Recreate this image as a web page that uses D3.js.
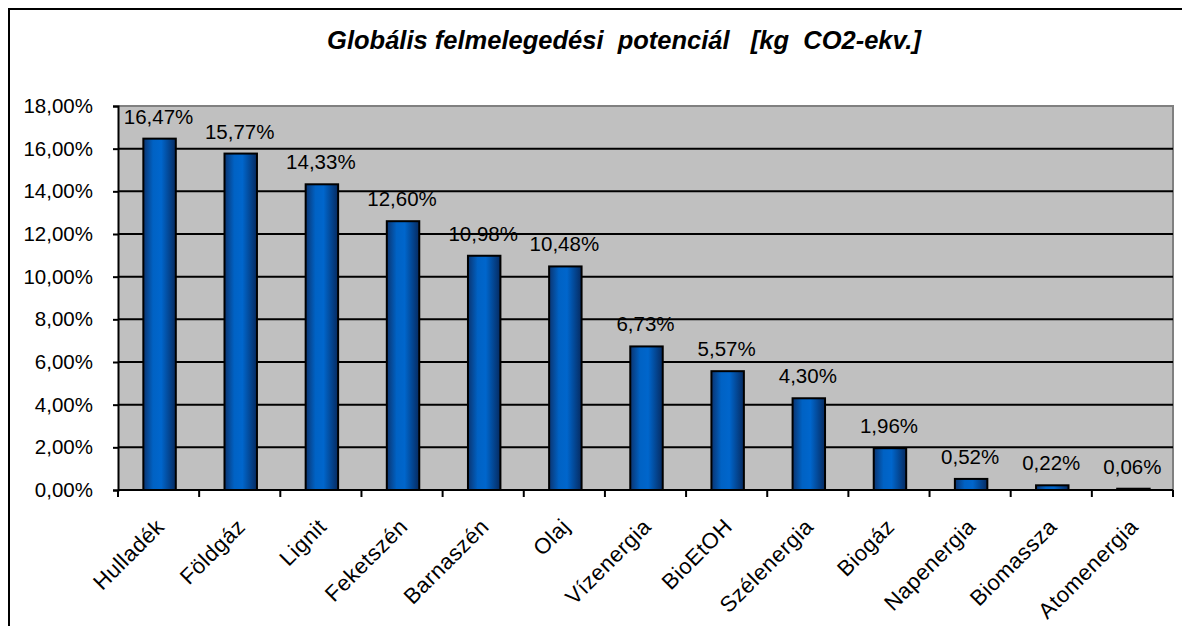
<!DOCTYPE html>
<html>
<head>
<meta charset="utf-8">
<script src="https://cdn.jsdelivr.net/npm/d3@7"></script>
<style>
  html, body { margin: 0; padding: 0; background: #fff; }
  svg { display: block; font-family: Arial, "Liberation Sans", sans-serif; }
</style>
</head>
<body>
<svg id="chart" width="1182" height="626"></svg>
<script>
// Global warming potential share by energy source
const categories = ["Hulladék", "Földgáz", "Lignit", "Feketszén", "Barnaszén", "Olaj",
  "Vízenergia", "BioEtOH", "Szélenergia", "Biogáz", "Napenergia", "Biomassza", "Atomenergia"];
const values = [16.47, 15.77, 14.33, 12.60, 10.98, 10.48, 6.73, 5.57, 4.30, 1.96, 0.52, 0.22, 0.06];
const yTicks = [0, 2, 4, 6, 8, 10, 12, 14, 16, 18];
const title = "Globális felmelegedési  potenciál   [kg  CO2-ekv.]";

const fmt = v => v.toFixed(2).replace(".", ",") + "%";

const svg = d3.select("#chart");
const plot = { left: 118, right: 1173, top: 106, bottom: 490 };

// outer chart frame
svg.append("path")
  .attr("d", "M9,640 L9,9 L1190,9")
  .attr("fill", "none").attr("stroke", "#000").attr("stroke-width", 2);

// title
svg.append("text")
  .attr("x", 624).attr("y", 49)
  .attr("text-anchor", "middle")
  .attr("font-size", 25.5).attr("font-weight", "bold").attr("font-style", "italic")
  .style("white-space", "pre")
  .text(title);

const x = d3.scaleBand().domain(categories).range([plot.left, plot.right]).paddingInner(0).paddingOuter(0);
const y = d3.scaleLinear().domain([0, 18]).range([plot.bottom, plot.top]);

// plot background
svg.append("rect")
  .attr("x", plot.left).attr("y", plot.top)
  .attr("width", plot.right - plot.left).attr("height", plot.bottom - plot.top)
  .attr("fill", "#c0c0c0");
svg.append("path")
  .attr("d", `M${plot.left},${plot.top} L${plot.right},${plot.top} L${plot.right},${plot.bottom}`)
  .attr("fill", "none").attr("stroke", "#808080").attr("stroke-width", 2);

// gridlines
svg.append("g").selectAll("line")
  .data(yTicks.filter(t => t > 0 && t < 18))
  .join("line")
  .attr("x1", plot.left).attr("x2", plot.right)
  .attr("y1", d => y(d)).attr("y2", d => y(d))
  .attr("stroke", "#000").attr("stroke-width", 2);

// bar gradient
const defs = svg.append("defs");
const grad = defs.append("linearGradient").attr("id", "barGrad")
  .attr("x1", "0%").attr("x2", "100%").attr("y1", "0%").attr("y2", "0%");
[[0, "#0b3470"], [0.3, "#0062c4"], [0.55, "#0066cc"], [1, "#062a60"]]
  .forEach(([o, c]) => grad.append("stop").attr("offset", o).attr("stop-color", c));

// bars
const barW = x.bandwidth() * 0.4;
svg.append("g").selectAll("rect")
  .data(values)
  .join("rect")
  .attr("x", (d, i) => x(categories[i]) + x.bandwidth() / 2 - barW / 2 + 1)
  .attr("y", d => y(d))
  .attr("width", barW)
  .attr("height", d => y(0) - y(d))
  .attr("fill", "url(#barGrad)")
  .attr("stroke", "#000").attr("stroke-width", 2);

// value labels
svg.append("g").selectAll("text")
  .data(values)
  .join("text")
  .attr("x", (d, i) => x(categories[i]) + x.bandwidth() / 2)
  .attr("y", d => y(d) - 15)
  .attr("text-anchor", "middle")
  .attr("font-size", 20.5)
  .text(d => fmt(d));

// y axis
const yAxis = d3.axisLeft(y).tickValues(yTicks).tickSize(5).tickPadding(20).tickFormat(d => fmt(d));
const gy = svg.append("g").attr("transform", `translate(${plot.left},0)`).call(yAxis);
gy.select(".domain").attr("stroke", "#000").attr("stroke-width", 2);
gy.selectAll(".tick line").attr("stroke", "#000").attr("stroke-width", 2);
gy.selectAll(".tick text").attr("font-size", 20.5).attr("font-family", "Arial, 'Liberation Sans', sans-serif").attr("fill", "#000");

// x axis: baseline and ticks at category boundaries
svg.append("line")
  .attr("x1", plot.left).attr("x2", plot.right)
  .attr("y1", plot.bottom).attr("y2", plot.bottom)
  .attr("stroke", "#000").attr("stroke-width", 2);
const bounds = categories.map(c => x(c)).concat([plot.right]);
svg.append("g").selectAll("line")
  .data(bounds)
  .join("line")
  .attr("x1", d => d).attr("x2", d => d)
  .attr("y1", plot.bottom).attr("y2", plot.bottom + 7)
  .attr("stroke", "#000").attr("stroke-width", 2);

// rotated category labels
svg.append("g").selectAll("text")
  .data(categories)
  .join("text")
  .attr("transform", d => `translate(${x(d) + x.bandwidth() / 2 + 7},${plot.bottom + 38}) rotate(-45)`)
  .attr("text-anchor", "end")
  .attr("font-size", 22)
  .attr("letter-spacing", 0.5)
  .text(d => d);
</script>
</body>
</html>
